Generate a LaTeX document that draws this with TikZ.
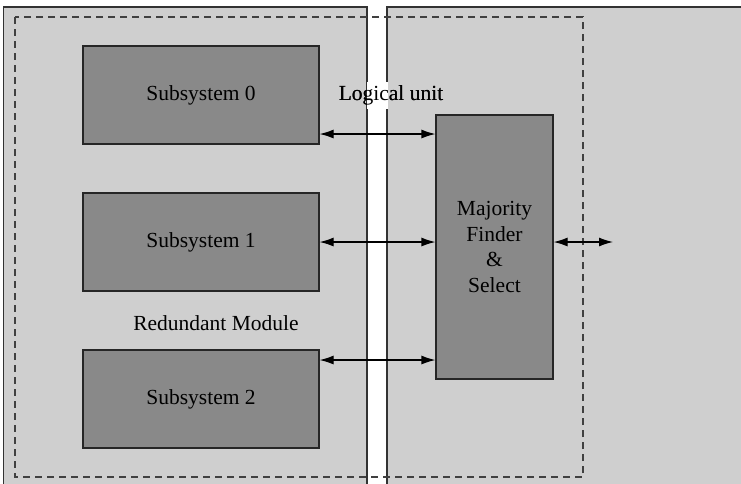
\documentclass[tikz,border=0pt]{standalone}
\usepackage{fontspec}
\setmainfont{Liberation Serif}
\usetikzlibrary{arrows.meta}
\definecolor{panelgray}{HTML}{CFCFCF}
\definecolor{boxgray}{HTML}{898989}
\definecolor{edgegray}{HTML}{333333}
\tikzset{
  panel/.style={fill=panelgray, draw=none},
  panelline/.style={draw=edgegray, line width=1.3pt},
  subbox/.style={draw=black!85, fill=boxgray, line width=1.2pt, minimum width=236pt,
    minimum height=98pt, inner sep=0pt, font=\fontsize{21.5}{25.5}\selectfont},
  majbox/.style={draw=black!85, fill=boxgray, line width=1.2pt, minimum width=117pt,
    minimum height=264pt, inner sep=0pt, align=center, font=\fontsize{21.5}{25.5}\selectfont},
  label/.style={inner sep=2pt, font=\fontsize{21.5}{25.5}\selectfont},
  biarrow/.style={{Latex[length=14pt,width=9pt]}-{Latex[length=14pt,width=9pt]}, line width=1.2pt},
  frame/.style={draw=black!75, line width=1.4pt, dash pattern=on 7pt off 5pt}
}
\begin{document}
\begin{tikzpicture}[x=1pt,y=-1pt]
\useasboundingbox (0,0) rectangle (741,483);
\fill[white] (0,0) rectangle (741,483);
% two shaded panels, open towards the bottom
\fill[panel] (3.5,7) rectangle (367,490);
\fill[panel] (387,7) rectangle (745,490);
\draw[panelline] (3.5,490) -- (3.5,7) -- (367,7) -- (367,490);
\draw[panelline] (745,7) -- (387,7) -- (387,490);
% dashed outline of the module
\draw[frame] (15,17) rectangle (583,477);
% subsystems
\node[subbox] (s0) at (201,95) {Subsystem 0};
\node[subbox] (s1) at (201,242) {Subsystem 1};
\node[subbox] (s2) at (201,399) {Subsystem 2};
% voter
\node[majbox] (maj) at (494.5,247) {Majority\\Finder\\\&\\Select};
\coordinate (out) at (613,242);
% labels
\node[label] (lu) at (391,95) {Logical unit};
\node[label] (rm) at (216,323) {Redundant Module};
% connectors
\draw[biarrow] (s0.east |- 0,134) -- (maj.west |- 0,134);
\draw[biarrow] (s1.east) -- (maj.west |- s1.east);
\draw[biarrow] (s2.east |- 0,360) -- (maj.west |- 0,360);
\draw[biarrow] (maj.east |- out) -- (out);
% gap between the panels behind the label
\fill[white] (366.5,82) rectangle (387.5,109);
\node[label] at (lu) {Logical unit};
\end{tikzpicture}
\end{document}
